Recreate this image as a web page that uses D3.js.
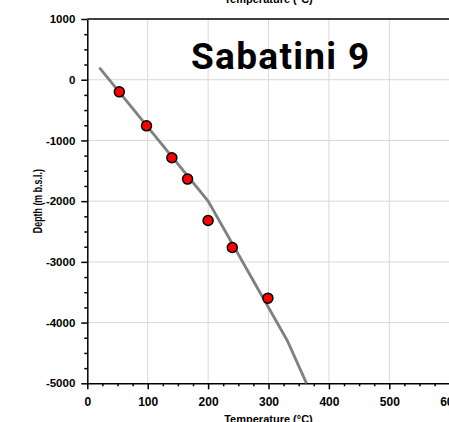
<!DOCTYPE html>
<html>
<head>
<meta charset="utf-8">
<script src="https://cdn.jsdelivr.net/npm/d3@7"></script>
<style>
  body { margin: 0; background: #fff; }
  svg { display: block; }
</style>
</head>
<body>
<svg class="chart" width="449" height="422"></svg>
<script>
// measured temperatures (deg C) and depths (m b.s.l.)
var pointTemps = [53, 98, 140, 166, 200, 240, 299];
var pointDepths = [-200, -760, -1285, -1637, -2318, -2763, -3598];

// modelled profile line
var lineTemps = [20, 200, 331, 363];
var lineDepths = [200, -2000, -4294, -5000];

var xTicks = [0, 100, 200, 300, 400, 500, 600];
var yTicks = [1000, 0, -1000, -2000, -3000, -4000, -5000];
var title = 'Sabatini 9';

var svg = d3.select('.chart');
var plotLeft = 87.3, plotRight = 449.7, plotTop = 19, plotBottom = 383.3;

var xscale = d3.scaleLinear()
    .domain([0, 600])
    .range([plotLeft, plotRight]);

var yscale = d3.scaleLinear()
    .domain([-5000, 1000])
    .range([plotBottom, plotTop]);

// grid
svg.selectAll('.vgrid')
   .data(xTicks.filter(d => d > 0 && d < 600))
   .enter()
   .append('line')
   .attr('x1', d => xscale(d))
   .attr('x2', d => xscale(d))
   .attr('y1', plotTop)
   .attr('y2', plotBottom)
   .attr('stroke', '#d9d9d9')
   .attr('stroke-width', 1);

svg.selectAll('.hgrid')
   .data(yTicks.filter(d => d < 1000 && d > -5000))
   .enter()
   .append('line')
   .attr('x1', plotLeft)
   .attr('x2', plotRight)
   .attr('y1', d => yscale(d))
   .attr('y2', d => yscale(d))
   .attr('stroke', '#d9d9d9')
   .attr('stroke-width', 1);

// top border
svg.append('line')
   .attr('x1', plotLeft)
   .attr('x2', plotRight)
   .attr('y1', plotTop)
   .attr('y2', plotTop)
   .attr('stroke', '#000')
   .attr('stroke-width', 1.5);

// minor ticks
var xMinor = d3.range(0, 601, 25).filter(d => d % 100 != 0);
var yMinor = d3.range(-5000, 1001, 250).filter(d => d % 1000 != 0);

svg.append('g')
   .attr('transform', 'translate(0,' + plotBottom + ')')
   .call(d3.axisBottom(xscale).tickValues(xMinor).tickSize(3).tickFormat(''))
   .call(g => g.select('.domain').remove())
   .selectAll('line').attr('stroke-width', 1.5);

svg.append('g')
   .attr('transform', 'translate(' + plotLeft + ',0)')
   .call(d3.axisLeft(yscale).tickValues(yMinor).tickSize(3).tickFormat(''))
   .call(g => g.select('.domain').remove())
   .selectAll('line').attr('stroke-width', 1.5);

// major axes
var xAxis = svg.append('g')
   .attr('transform', 'translate(0,' + plotBottom + ')')
   .call(d3.axisBottom(xscale).tickValues(xTicks).tickSize(6).tickSizeOuter(0).tickPadding(8));

var yAxis = svg.append('g')
   .attr('transform', 'translate(' + plotLeft + ',0)')
   .call(d3.axisLeft(yscale).tickValues(yTicks).tickSize(6).tickSizeOuter(0).tickPadding(6)
         .tickFormat(d => String(d)));

[xAxis, yAxis].forEach(function(a) {
  a.select('.domain').attr('stroke-width', 1.5);
  a.selectAll('line').attr('stroke-width', 1.5);
  a.selectAll('text')
   .attr('font-family', '"Liberation Sans", Arial, sans-serif')
   .attr('font-weight', 'bold')
   .attr('fill', '#000');
});
xAxis.selectAll('text').attr('font-size', '12px');
yAxis.selectAll('text').attr('font-size', '11.5px');

// profile line
var line = d3.line()
    .x((d, i) => xscale(lineTemps[i]))
    .y((d, i) => yscale(lineDepths[i]));

svg.append('path')
   .datum(lineTemps)
   .attr('d', line)
   .attr('fill', 'none')
   .attr('stroke', '#808080')
   .attr('stroke-width', 2.8);

// points
svg.selectAll('circle')
   .data(pointTemps)
   .enter()
   .append('circle')
   .attr('cx', d => xscale(d))
   .attr('cy', (d, i) => yscale(pointDepths[i]))
   .attr('r', 5)
   .attr('fill', '#ff0000')
   .attr('stroke', '#000')
   .attr('stroke-width', 1.5);

// axis labels
var labelFont = '"Liberation Sans", Arial, sans-serif';
svg.append('text')
   .text('Temperature (°C)')
   .attr('x', (plotLeft + plotRight) / 2)
   .attr('y', 423)
   .attr('text-anchor', 'middle')
   .attr('font-family', labelFont)
   .attr('font-weight', 'bold')
   .attr('font-size', '11px');

// label of the panel above, cut off by the frame
svg.append('text')
   .text('Temperature (°C)')
   .attr('x', (plotLeft + plotRight) / 2)
   .attr('y', 3)
   .attr('text-anchor', 'middle')
   .attr('font-family', labelFont)
   .attr('font-weight', 'bold')
   .attr('font-size', '11px');

svg.append('text')
   .text('Depth (m b.s.l.)')
   .attr('transform', 'translate(41.5,' + yscale(-2000) + ') rotate(-90)')
   .attr('text-anchor', 'middle')
   .attr('font-family', labelFont)
   .attr('font-weight', 'bold')
   .attr('font-size', '13px')
   .attr('textLength', 64)
   .attr('lengthAdjust', 'spacingAndGlyphs');

svg.append('text')
   .text(title)
   .attr('x', 191)
   .attr('y', 69)
   .attr('font-family', 'Roboto, sans-serif')
   .attr('font-weight', 700)
   .attr('font-size', '37px')
   .attr('letter-spacing', '1.3px')
   .attr('fill', '#000');
</script>
</body>
</html>
